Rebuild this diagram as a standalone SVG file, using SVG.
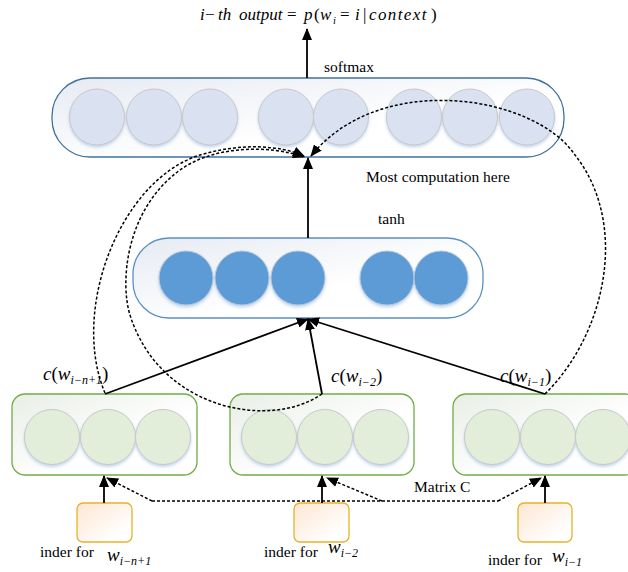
<svg xmlns="http://www.w3.org/2000/svg" width="628" height="572" viewBox="0 0 628 572">
<defs>
<style>
.serif{font-family:"Liberation Serif","Times New Roman",serif;fill:#000}
.lbl{font-size:15.5px}
.it{font-style:italic}
.up{font-style:normal}
.sm-c{fill:#dae2f2;stroke:#c8c8c8;stroke-width:1}
.th-c{fill:#5b9bd5;stroke:#b7c7da;stroke-width:1}
.gr-c{fill:#e2eed9;stroke:#c8c8c8;stroke-width:1}
.solid{fill:none;stroke:#000;stroke-width:1.8}
.dash{fill:none;stroke:#000;stroke-width:1.5;stroke-dasharray:3 2}
</style>
<linearGradient id="gBlue" x1="0" y1="0" x2="1" y2="1">
<stop offset="0" stop-color="#e6eaf2"/>
<stop offset="0.6" stop-color="#ffffff"/>
</linearGradient>
<linearGradient id="gGreen" x1="0" y1="0" x2="1" y2="1">
<stop offset="0" stop-color="#e9eee6"/>
<stop offset="0.6" stop-color="#ffffff"/>
</linearGradient>
<linearGradient id="gYellow" x1="0" y1="0" x2="1" y2="1">
<stop offset="0" stop-color="#fde6d2"/>
<stop offset="0.8" stop-color="#ffffff"/>
</linearGradient>
<filter id="sh" x="-20%" y="-20%" width="140%" height="150%">
<feDropShadow dx="0" dy="2" stdDeviation="1.5" flood-color="#9dbbe0" flood-opacity="0.6"/>
</filter>
<marker id="ah" markerUnits="userSpaceOnUse" markerWidth="12" markerHeight="10" viewBox="0 0 12 10" refX="11" refY="5" orient="auto">
<path d="M0,0 L12,5 L0,10 z" fill="#000"/>
</marker>
</defs>

<rect width="628" height="572" fill="#fff"/>

<g id="title">
<text class="serif it" font-size="17" y="20"><tspan x="200">i</tspan><tspan x="205" class="up">−</tspan><tspan x="218">th</tspan><tspan x="239">output</tspan><tspan x="287" class="up">=</tspan><tspan x="304">p</tspan><tspan x="314" class="up">(</tspan><tspan x="320">w</tspan><tspan x="333" y="24" font-size="10.5">i</tspan><tspan x="340" y="20" class="up">=</tspan><tspan x="355">i</tspan><tspan x="363" class="up">|</tspan><tspan x="369" letter-spacing="1.4">context</tspan><tspan x="431" class="up">)</tspan></text>
</g>

<g id="softmax">
<rect x="52" y="78" width="512" height="79" rx="38" ry="38" fill="url(#gBlue)" stroke="#41719c" stroke-width="1.3"/>
<g filter="url(#sh)">
<ellipse class="sm-c" cx="97" cy="117" rx="27.5" ry="28"/>
<ellipse class="sm-c" cx="154" cy="117" rx="27.5" ry="28"/>
<ellipse class="sm-c" cx="210" cy="117" rx="27.5" ry="28"/>
<ellipse class="sm-c" cx="286" cy="117" rx="27.5" ry="28"/>
<ellipse class="sm-c" cx="341" cy="117" rx="27.5" ry="28"/>
<ellipse class="sm-c" cx="414" cy="117" rx="27.5" ry="28"/>
<ellipse class="sm-c" cx="470" cy="117" rx="27.5" ry="28"/>
<ellipse class="sm-c" cx="527" cy="117" rx="27.5" ry="28"/>
</g>
<text class="serif lbl" x="324" y="72">softmax</text>
</g>

<g id="tanh">
<rect x="133" y="238" width="350" height="80" rx="36" ry="36" fill="url(#gBlue)" stroke="#5b8fc7" stroke-width="1.3"/>
<g filter="url(#sh)">
<circle class="th-c" cx="186" cy="278" r="27"/>
<circle class="th-c" cx="242" cy="278" r="27"/>
<circle class="th-c" cx="298" cy="278" r="27"/>
<circle class="th-c" cx="387" cy="278" r="27"/>
<circle class="th-c" cx="441" cy="278" r="27"/>
</g>
<text class="serif lbl" x="378" y="224">tanh</text>
</g>

<g id="note">
<text class="serif lbl" x="366" y="182">Most computation here</text>
</g>

<g id="c1">
<rect x="12" y="394" width="185" height="81" rx="13" ry="13" fill="url(#gGreen)" stroke="#70ad47" stroke-width="1.3"/>
<g filter="url(#sh)">
<circle class="gr-c" cx="52" cy="437" r="27.5"/>
<circle class="gr-c" cx="108" cy="437" r="27.5"/>
<circle class="gr-c" cx="163" cy="437" r="27.5"/>
</g>
<text class="serif it" font-size="19" x="43" y="380">c<tspan class="up">(</tspan>w<tspan font-size="12" dy="4">i−n+1</tspan><tspan class="up" dy="-4">)</tspan></text>
</g>

<g id="c2">
<rect x="230" y="394" width="184" height="81" rx="13" ry="13" fill="url(#gGreen)" stroke="#70ad47" stroke-width="1.3"/>
<g filter="url(#sh)">
<circle class="gr-c" cx="269" cy="437" r="27.5"/>
<circle class="gr-c" cx="325" cy="437" r="27.5"/>
<circle class="gr-c" cx="381" cy="437" r="27.5"/>
</g>
<text class="serif it" font-size="19" x="331" y="382">c<tspan class="up">(</tspan>w<tspan font-size="12" dy="4">i−2</tspan><tspan class="up" dy="-4">)</tspan></text>
</g>

<g id="c3">
<rect x="453" y="394" width="185" height="81" rx="13" ry="13" fill="url(#gGreen)" stroke="#70ad47" stroke-width="1.3"/>
<g filter="url(#sh)">
<circle class="gr-c" cx="492" cy="437" r="27.5"/>
<circle class="gr-c" cx="548" cy="437" r="27.5"/>
<circle class="gr-c" cx="603" cy="437" r="27.5"/>
</g>
<text class="serif it" font-size="19" x="500" y="382">c<tspan class="up">(</tspan>w<tspan font-size="12" dy="4">i−1</tspan><tspan class="up" dy="-4">)</tspan></text>
</g>

<g id="idx1">
<rect x="77" y="503" width="55" height="39" rx="6" ry="6" fill="url(#gYellow)" stroke="#e8b12a" stroke-width="1.3"/>
<text class="serif lbl" x="40" y="557">inder for</text>
<text class="serif it" font-size="19" x="107" y="561">w<tspan font-size="12" dy="4">i−n+1</tspan></text>
</g>

<g id="idx2">
<rect x="294" y="503" width="55" height="39" rx="6" ry="6" fill="url(#gYellow)" stroke="#e8b12a" stroke-width="1.3"/>
<text class="serif lbl" x="264" y="557">inder for</text>
<text class="serif it" font-size="19" x="328" y="553">w<tspan font-size="12" dy="4">i−2</tspan></text>
</g>

<g id="idx3">
<rect x="518" y="503" width="54" height="39" rx="6" ry="6" fill="url(#gYellow)" stroke="#e8b12a" stroke-width="1.3"/>
<text class="serif lbl" x="488" y="565">inder for</text>
<text class="serif it" font-size="19" x="552" y="562">w<tspan font-size="12" dy="4">i−1</tspan></text>
</g>

<g id="matrixC">
<text class="serif lbl" x="414" y="492">Matrix C</text>
</g>

<g id="connectors">
<line class="solid" x1="307" y1="78" x2="307" y2="29" marker-end="url(#ah)"/>
<line class="solid" x1="308" y1="238" x2="308" y2="158" marker-end="url(#ah)"/>
<line class="solid" x1="105" y1="394" x2="308" y2="319" marker-end="url(#ah)"/>
<line class="solid" x1="322" y1="394" x2="308" y2="319" marker-end="url(#ah)"/>
<line class="solid" x1="545" y1="394" x2="308" y2="319" marker-end="url(#ah)"/>
<line class="solid" x1="104" y1="503" x2="104" y2="476" marker-end="url(#ah)"/>
<line class="solid" x1="322" y1="503" x2="322" y2="476" marker-end="url(#ah)"/>
<line class="solid" x1="545" y1="503" x2="545" y2="476" marker-end="url(#ah)"/>
<path class="dash" d="M105,393 C70,310 120,180 200,155 C240,143 280,145 304,156" marker-end="url(#ah)"/>
<path class="dash" d="M322,394 C270,430 160,410 130,315 C120,283 125,210 180,170 C215,145 270,145 304,157" marker-end="url(#ah)"/>
<path class="dash" d="M545,394 C605,335 630,225 575,155 C535,95 380,70 311,156" marker-end="url(#ah)"/>
<path class="dash" d="M152,501 L498,501"/>
<path class="dash" d="M152,501 L107,478" marker-end="url(#ah)"/>
<path class="dash" d="M382,501 L327,478" marker-end="url(#ah)"/>
<path class="dash" d="M498,501 L541,478" marker-end="url(#ah)"/>
</g>
</svg>
